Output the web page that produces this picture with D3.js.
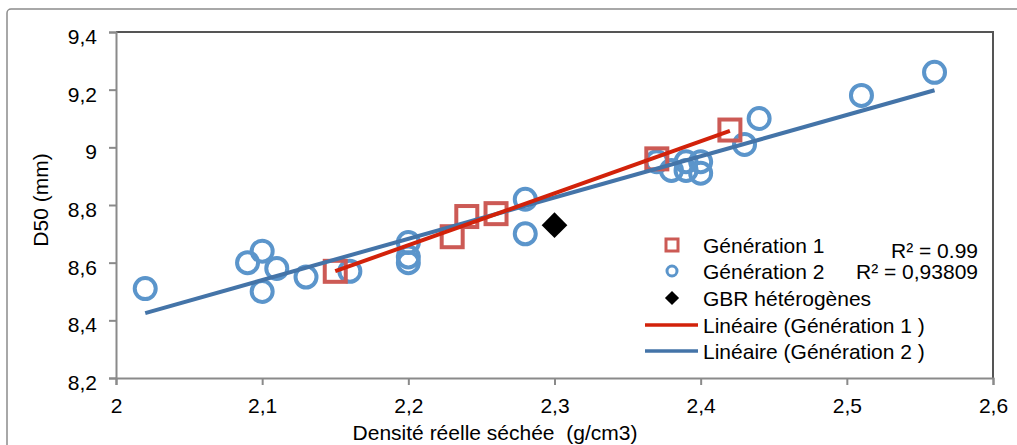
<!DOCTYPE html>
<html><head><meta charset="utf-8">
<script src="https://cdn.jsdelivr.net/npm/d3@7/dist/d3.min.js"></script>
<style>body{margin:0;background:#fff;}svg{display:block;font-family:"Liberation Sans",Arial,sans-serif;}</style>
</head><body>
<svg id="c" width="1017" height="445"></svg>
<script>
const gen1X = [2.15, 2.23, 2.24, 2.26, 2.37, 2.42];
const gen1Y = [8.57, 8.69, 8.76, 8.77, 8.96, 9.06];
const gen2X = [2.02, 2.09, 2.10, 2.10, 2.11, 2.13, 2.16, 2.20, 2.20, 2.20, 2.28, 2.28, 2.37, 2.38, 2.39, 2.39, 2.40, 2.40, 2.43, 2.44, 2.51, 2.56];
const gen2Y = [8.51, 8.60, 8.64, 8.50, 8.58, 8.55, 8.57, 8.67, 8.62, 8.60, 8.82, 8.70, 8.95, 8.92, 8.95, 8.92, 8.95, 8.91, 9.01, 9.10, 9.18, 9.26];
const gbrX = [2.30];
const gbrY = [8.73];
const xTicks = [2, 2.1, 2.2, 2.3, 2.4, 2.5, 2.6];
const yTicks = [8.2, 8.4, 8.6, 8.8, 9, 9.2, 9.4];
const legendLabels = ["Génération 1", "Génération 2", "GBR hétérogènes", "Linéaire (Génération 1 )", "Linéaire (Génération 2 )"];
const r2Labels = ["R² = 0.99", "R² = 0,93809"];

const FS = 21;
const svg = d3.select("#c");
const L = 116, R = 993, T = 32, B = 378;
const x = d3.scaleLinear().domain([2, 2.6]).range([L, R]);
const y = d3.scaleLinear().domain([8.2, 9.4]).range([B, T]);
const fmt = v => String(v).replace(".", ",");

const C1 = "#cc5a55", C2 = "#5b95cb", L1 = "#d2220a", L2 = "#4474a8";

// outer border
svg.append("rect").attr("x", 7).attr("y", 9).attr("width", 1030).attr("height", 460)
  .attr("rx", 4).attr("fill", "none").attr("stroke", "#8c8c8c").attr("stroke-width", 1.5);

// plot frame top/right
svg.append("path").attr("d", `M${L},${T}H${R}V${B}`).attr("fill", "none")
  .attr("stroke", "#555").attr("stroke-width", 2);

// axes
const gx = svg.append("g").attr("transform", `translate(0,${B})`)
  .call(d3.axisBottom(x).tickValues(xTicks).tickFormat(fmt).tickSize(7).tickPadding(13));
const gy = svg.append("g").attr("transform", `translate(${L},0)`)
  .call(d3.axisLeft(y).tickValues(yTicks).tickFormat(fmt).tickSize(7).tickPadding(12));
[gx, gy].forEach(g => {
  g.select(".domain").attr("stroke", "#8a8a8a").attr("stroke-width", 2);
  g.selectAll(".tick line").attr("stroke", "#8a8a8a").attr("stroke-width", 2);
  g.selectAll("text").attr("font-size", FS).attr("fill", "#000").attr("font-family", "Liberation Sans, Arial, sans-serif");
});
gy.selectAll("text").attr("dy", "0.55em");

// titles
svg.append("text").attr("x", 495).attr("y", 440).attr("text-anchor", "middle")
  .attr("font-size", FS).text("Densité réelle séchée  (g/cm3)").style("white-space", "pre");
svg.append("text").attr("transform", "translate(48,200) rotate(-90)").attr("text-anchor", "middle")
  .attr("font-size", FS).text("D50 (mm)");

// regression
function reg(xs, ys) {
  const mx = d3.mean(xs), my = d3.mean(ys);
  let sxy = 0, sxx = 0;
  xs.forEach((v, i) => { sxy += (v - mx) * (ys[i] - my); sxx += (v - mx) * (v - mx); });
  const b = sxy / sxx, a = my - b * mx;
  const x0 = d3.min(xs), x1 = d3.max(xs);
  return [[x0, a + b * x0], [x1, a + b * x1]];
}
const line = d3.line().x(d => x(d[0])).y(d => y(d[1]));

// gen2 circles
svg.append("g").selectAll("circle").data(gen2X.map((v, i) => [v, gen2Y[i]])).join("circle")
  .attr("cx", d => x(d[0])).attr("cy", d => y(d[1])).attr("r", 10.5)
  .attr("fill", "none").attr("stroke", C2).attr("stroke-width", 4);
// gen1 squares
svg.append("g").selectAll("rect").data(gen1X.map((v, i) => [v, gen1Y[i]])).join("rect")
  .attr("x", d => x(d[0]) - 10.5).attr("y", d => y(d[1]) - 10.5).attr("width", 21).attr("height", 21)
  .attr("fill", "none").attr("stroke", C1).attr("stroke-width", 4);
// GBR diamond
svg.append("g").selectAll("path").data(gbrX.map((v, i) => [v, gbrY[i]])).join("path")
  .attr("d", d3.symbol().type(d3.symbolSquare).size(330))
  .attr("transform", d => `translate(${x(d[0])},${y(d[1])}) rotate(45)`).attr("fill", "#000");

svg.append("path").attr("d", line(reg(gen2X, gen2Y))).attr("stroke", L2).attr("stroke-width", 4).attr("fill", "none");
svg.append("path").attr("d", line(reg(gen1X, gen1Y))).attr("stroke", L1).attr("stroke-width", 4).attr("fill", "none");

// legend
const ly = [245, 271, 298, 325, 351];
const lg = svg.append("g");
lg.append("rect").attr("x", 666).attr("y", ly[0] - 6).attr("width", 12).attr("height", 12)
  .attr("fill", "none").attr("stroke", C1).attr("stroke-width", 3);
lg.append("circle").attr("cx", 672).attr("cy", ly[1]).attr("r", 5)
  .attr("fill", "none").attr("stroke", C2).attr("stroke-width", 3);
lg.append("path").attr("d", d3.symbol().type(d3.symbolSquare).size(100))
  .attr("transform", `translate(672,${ly[2]}) rotate(45)`).attr("fill", "#000");
lg.append("line").attr("x1", 645).attr("x2", 698).attr("y1", ly[3]).attr("y2", ly[3]).attr("stroke", L1).attr("stroke-width", 3.5);
lg.append("line").attr("x1", 645).attr("x2", 698).attr("y1", ly[4]).attr("y2", ly[4]).attr("stroke", L2).attr("stroke-width", 3.5);
lg.selectAll("text.l").data(legendLabels).join("text").attr("class", "l")
  .attr("x", d => 703).attr("y", (d, i) => ly[i]).attr("dy", "0.36em")
  .attr("font-size", FS).attr("fill", "#000").text(d => d);
svg.selectAll("text.r2").data(r2Labels).join("text").attr("class", "r2")
  .attr("x", 978).attr("y", (d, i) => [250, 271][i]).attr("dy", "0.36em").attr("text-anchor", "end")
  .attr("font-size", FS).attr("fill", "#000").text(d => d);
</script>
</body></html>
